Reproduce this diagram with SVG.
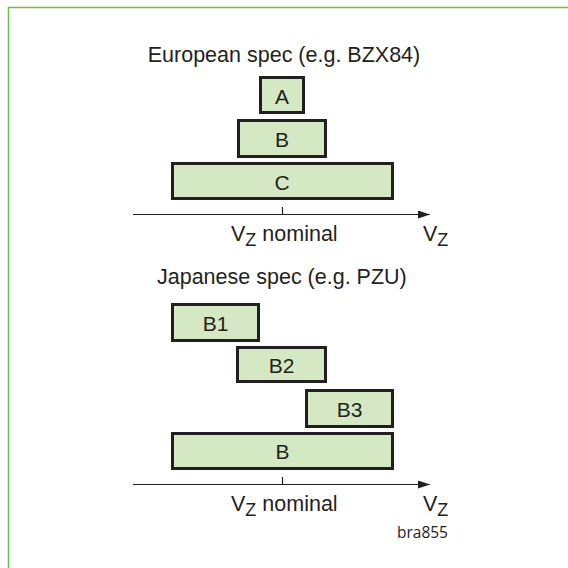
<svg xmlns="http://www.w3.org/2000/svg" width="568" height="568" viewBox="0 0 568 568">
  <style>
    .box rect { fill: #d5e8c4; stroke: #231f20; stroke-width: 3; }
    .box text, .lbl { font-family: "Liberation Sans", Arial, sans-serif; font-size: 21.5px; fill: #231f20; }
    .box text { text-anchor: middle; dominant-baseline: central; font-size: 21px; }
    .sub { font-size: 18px; }
    .axis { stroke: #231f20; stroke-width: 1.2; fill: none; }
    .tag { font-family: "Open Sans", "Liberation Sans", sans-serif; font-size: 15.5px; fill: #231f20; }
  </style>
  <defs>
    <marker id="arrow" markerWidth="12" markerHeight="8" refX="12" refY="4" orient="auto" markerUnits="userSpaceOnUse">
      <path d="M0,0 L12,4 L0,8 Z" fill="#231f20"/>
    </marker>
  </defs>
  <rect width="568" height="568" fill="#ffffff"/>
  <!-- frame -->
  <path d="M8.5,568 L8.5,7.5 L568,7.5" fill="none" stroke="#6cc04a" stroke-width="1.5"/>

  <!-- European spec -->
  <text class="lbl" x="284" y="62" text-anchor="middle">European spec (e.g. BZX84)</text>
  <g id="eu-A" class="box"><rect x="260.5" y="77.5" width="43" height="35"/><text x="282" y="96">A</text></g>
  <g id="eu-B" class="box"><rect x="238.5" y="120.5" width="87" height="36"/><text x="282" y="139">B</text></g>
  <g id="eu-C" class="box"><rect x="172.5" y="163.5" width="220" height="35"/><text x="282" y="182">C</text></g>

  <!-- Japanese spec -->
  <text class="lbl" x="157" y="284">Japanese spec (e.g. PZU)</text>
  <g id="jp-B1" class="box"><rect x="172.5" y="304.5" width="86" height="36"/><text x="215.5" y="323">B1</text></g>
  <g id="jp-B2" class="box"><rect x="237.5" y="347.5" width="88" height="34"/><text x="281.5" y="365">B2</text></g>
  <g id="jp-B3" class="box"><rect x="306.5" y="390.5" width="86" height="36"/><text x="349.5" y="409">B3</text></g>
  <g id="jp-B" class="box"><rect x="172.5" y="433.5" width="220" height="35"/><text x="282.5" y="451.5">B</text></g>

  <!-- axes -->
  <g id="connectors">
    <line class="axis" x1="133" y1="214.5" x2="430" y2="214.5" marker-end="url(#arrow)"/>
    <line class="axis" x1="282.5" y1="207" x2="282.5" y2="214.5"/>
    <line class="axis" x1="133" y1="484.5" x2="430" y2="484.5" marker-end="url(#arrow)"/>
    <line class="axis" x1="282.5" y1="477" x2="282.5" y2="484.5"/>
  </g>

  <!-- axis labels -->
  <text class="lbl" x="231" y="241">V<tspan class="sub" dy="5">Z</tspan><tspan dy="-5"> nominal</tspan></text>
  <text class="lbl" x="423" y="241">V<tspan class="sub" dy="5">Z</tspan></text>
  <text class="lbl" x="231" y="511">V<tspan class="sub" dy="5">Z</tspan><tspan dy="-5"> nominal</tspan></text>
  <text class="lbl" x="423" y="511">V<tspan class="sub" dy="5">Z</tspan></text>
  <text class="tag" x="448" y="538" text-anchor="end">bra855</text>
</svg>
